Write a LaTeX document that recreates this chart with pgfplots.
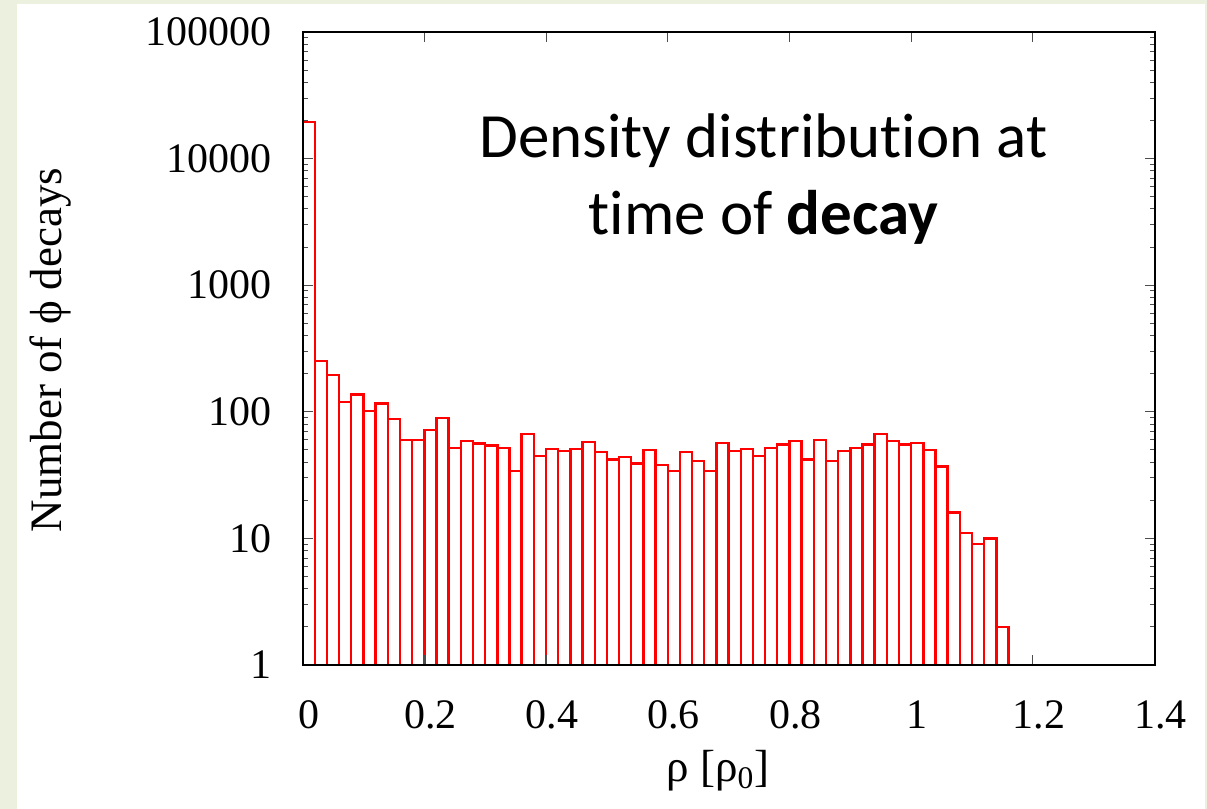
\documentclass[border=0pt]{standalone}
\usepackage{pgfplots}
\pgfplotsset{compat=1.18}
\usepackage{fontspec}
\setmainfont{Liberation Serif}
\newfontfamily\calibri[Ligatures=NoCommon,RawFeature={-liga;-calt;-dlig}]{Carlito}
\definecolor{bggreen}{HTML}{EBF1DE}
\begin{document}
\begin{tikzpicture}
\fill[bggreen] (0,0) rectangle (603.5pt,404.5pt);
\fill[white] (8.5pt,0) rectangle (602.5pt,402.5pt);
\path[use as bounding box] (0,0) rectangle (603.5pt,404.5pt);
\begin{axis}[
  at={(151.3pt,72pt)}, anchor=south west,
  scale only axis, width=426pt, height=316.5pt,
  xmin=0, xmax=1.4, ymin=1, ymax=100000,
  ymode=log,
  axis line style={line width=1pt},
  tick align=inside,
  major tick length=5pt, minor tick length=2.5pt,
  tick style={black!70, line width=0.5pt},
  xtick={0,0.2,0.4,0.6,0.8,1,1.2,1.4},
  xticklabels={0,0.2,0.4,0.6,0.8,1,1.2,1.4},
  ytick={1,10,100,1000,10000,100000},
  yticklabels={1,10,100,1000,10000,100000},
  tick label style={font=\fontsize{21}{21}\selectfont},
  /pgf/number format/assume math mode=true,
  xticklabel style={yshift=-14.5pt, xshift=3pt},
  yticklabel style={xshift=-12pt},
  axis on top,
]
\addplot[ybar interval, draw=red, fill=white, line width=1.2pt] coordinates {
(0.00,19500) (0.02,252) (0.04,195) (0.06,120) (0.08,137) (0.10,102)
(0.12,116) (0.14,88) (0.16,60) (0.18,60) (0.20,72) (0.22,89)
(0.24,52) (0.26,59) (0.28,56) (0.30,54) (0.32,52) (0.34,34)
(0.36,67) (0.38,45) (0.40,51) (0.42,49) (0.44,51) (0.46,58)
(0.48,48) (0.50,42) (0.52,44) (0.54,39) (0.56,50) (0.58,38)
(0.60,34) (0.62,48) (0.64,41) (0.66,34) (0.68,57) (0.70,49)
(0.72,51) (0.74,45) (0.76,52) (0.78,55) (0.80,59) (0.82,42)
(0.84,60) (0.86,41) (0.88,49) (0.90,52) (0.92,55) (0.94,67)
(0.96,59) (0.98,55) (1.00,57) (1.02,50) (1.04,37) (1.06,16)
(1.08,11) (1.10,9) (1.12,10) (1.14,2) (1.16,2)
};
\end{axis}
\node[rotate=90, font=\fontsize{22.5}{22.5}\selectfont] at (25.5pt,229.5pt) {Number of ϕ decays};
\node[anchor=base, font=\fontsize{22.5}{22.5}\selectfont] at (359pt,13.5pt) {ρ [ρ\textsubscript{0}]};
\node[anchor=base, font=\calibri\fontsize{31.5}{31.5}\selectfont] at (381.75pt,325.5pt) {Density dist\kern0pt ribut\kern0pt ion at};
\node[anchor=base, font=\calibri\fontsize{31.5}{31.5}\selectfont] at (381.75pt,287pt) {t\kern0pt ime of \textbf{decay}};
\end{tikzpicture}
\end{document}
